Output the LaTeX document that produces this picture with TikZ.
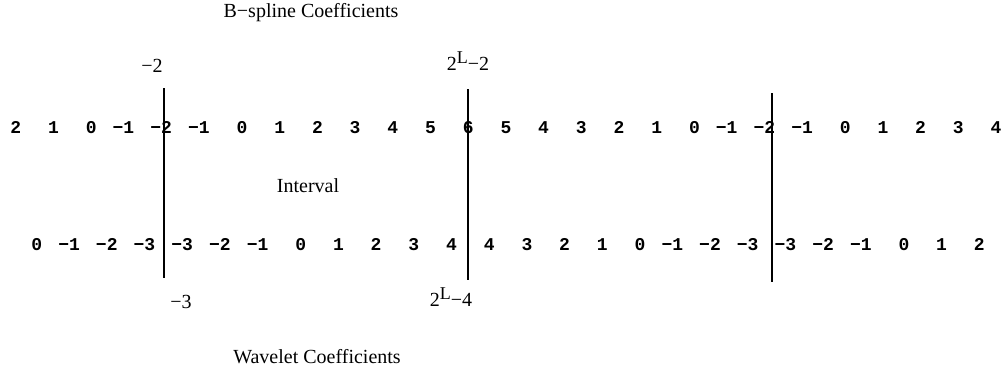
\documentclass[tikz,border=0pt]{standalone}
\usepackage{fontspec}
\setmainfont{Liberation Serif}
\newfontfamily\monofam{Liberation Mono}
\begin{document}
\begin{tikzpicture}[x=1pt,y=-1pt,
  num/.style={anchor=base east,inner sep=0pt,font=\monofam\bfseries\fontsize{18}{18}\selectfont},
  lab/.style={inner sep=0pt,font=\fontsize{20}{20}\selectfont},
  sep/.style={line width=1.1pt}]
\useasboundingbox (0,0) rectangle (1004,373);
% top row
\foreach \v [count=\i from 0] in {2,1,0,−1,−2,−1,0,1,2,3,4,5,6,5,4,3,2,1,0,−1,−2,−1,0,1,2,3,4}
  \node[num] (t\i) at ({16+37.7*\i+5.4},133) {\v};
% bottom row
\foreach \v [count=\i from 0] in {0,−1,−2,−3,−3,−2,−1,0,1,2,3,4,4,3,2,1,0,−1,−2,−3,−3,−2,−1,0,1,2}
  \node[num] (b\i) at ({37+37.7*\i+5.4},250) {\v};
% separators
\coordinate (l1a) at (164,88);  \coordinate (l1b) at (164,278);
\coordinate (l2a) at (468,89);  \coordinate (l2b) at (468,280);
\coordinate (l3a) at (772,93);  \coordinate (l3b) at (772,282);
\draw[sep] (l1a) -- (l1b);
\draw[sep] (l2a) -- (l2b);
\draw[sep] (l3a) -- (l3b);
% labels
\node[lab] (bs) at (311,13) {B−spline Coefficients};
\node[lab] (m2) at (152,66) {−2};
\node[lab] (L2) at (468,61) {2\raisebox{0.35em}{\fontsize{18}{18}\selectfont L}−2};
\node[lab] (iv) at (308,186) {Interval};
\node[lab] (m3) at (181,302) {−3};
\node[lab] (L4) at (451,297) {2\raisebox{0.35em}{\fontsize{18}{18}\selectfont L}−4};
\node[lab] (wc) at (317,357) {Wavelet Coefficients};
\end{tikzpicture}
\end{document}
